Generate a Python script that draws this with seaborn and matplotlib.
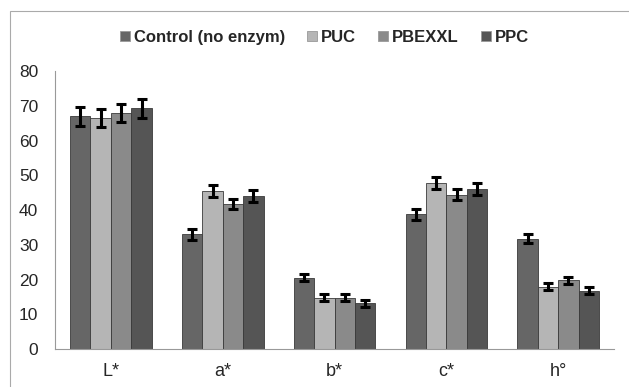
import numpy as np
import pandas as pd
import seaborn as sns
import matplotlib.pyplot as plt
from matplotlib.patches import Rectangle

# values
params = ["L*", "a*", "b*", "c*", "h°"]
treatments = ["Control (no enzym)", "PUC", "PBEXXL", "PPC"]

control = [67.0, 33.0, 20.5, 38.8, 31.8]
puc = [66.5, 45.5, 14.8, 47.8, 18.0]
pbexxl = [68.0, 41.8, 14.8, 44.5, 19.8]
ppc = [69.3, 44.0, 13.2, 46.0, 16.8]

control_err = [2.7, 1.7, 1.0, 1.5, 1.3]
puc_err = [2.7, 1.7, 1.0, 1.7, 1.0]
pbexxl_err = [2.5, 1.5, 1.0, 1.7, 1.0]
ppc_err = [2.7, 1.8, 1.0, 1.7, 1.0]

colors = ["#666666", "#b5b5b5", "#8a8a8a", "#555555"]

sns.set_style("white")
plt.rcParams["font.family"] = ["Liberation Sans", "DejaVu Sans"]

values = [control, puc, pbexxl, ppc]
errors = [control_err, puc_err, pbexxl_err, ppc_err]
rows = []
for t, vals, errs in zip(treatments, values, errors):
    for p, v, e in zip(params, vals, errs):
        rows.append({"param": p, "treatment": t, "value": v, "err": e})
df = pd.DataFrame(rows)

fig = plt.figure(figsize=(6.29, 3.87), dpi=100)
ax = fig.add_axes([0.0874, 0.098, 0.889, 0.718])

sns.barplot(
    data=df, x="param", y="value", hue="treatment",
    hue_order=treatments, order=params, palette=colors,
    errorbar=None, width=0.73, edgecolor="#3a3a3a", linewidth=0.6,
    saturation=1, ax=ax,
)

# error bars on top of each bar
for cont, errs in zip(ax.containers, errors):
    xs = [b.get_x() + b.get_width() / 2 for b in cont]
    ys = [b.get_height() for b in cont]
    ax.errorbar(xs, ys, yerr=errs, fmt="none", ecolor="black",
                elinewidth=2.2, capsize=3.5, capthick=2.2, zorder=5)

ax.set_ylim(0, 80)
ax.set_yticks(range(0, 81, 10))
ax.set_xlim(-0.5, len(params) - 0.5)
ax.set_xlabel("")
ax.set_ylabel("")

for s in ["top", "right"]:
    ax.spines[s].set_visible(False)
for s in ["left", "bottom"]:
    ax.spines[s].set_color("#999999")
    ax.spines[s].set_linewidth(0.8)

ax.tick_params(axis="y", length=4, color="#999999", labelsize=12.5, pad=8)
ax.tick_params(axis="x", which="major", length=0, labelsize=13, pad=10)
ax.set_xticks(np.arange(-0.5, len(params)), minor=True)
ax.tick_params(axis="x", which="minor", length=4, color="#999999")

leg = ax.legend(
    loc="center", bbox_to_anchor=(0.482, 1.122), ncol=4, frameon=False,
    handlelength=0.6, handleheight=0.6, handletextpad=0.25,
    columnspacing=1.3, prop={"weight": "bold", "size": 12},
)
for h in leg.legend_handles:
    h.set_edgecolor("#999999")

# thin frame around the chart area (top and left visible)
fig.patches.append(Rectangle((10 / 629, -0.1), 1.2, 1.1 - 11 / 387,
                             transform=fig.transFigure, fill=False,
                             edgecolor="#aaaaaa", linewidth=0.8))

fig.savefig("out.png", dpi=100)
